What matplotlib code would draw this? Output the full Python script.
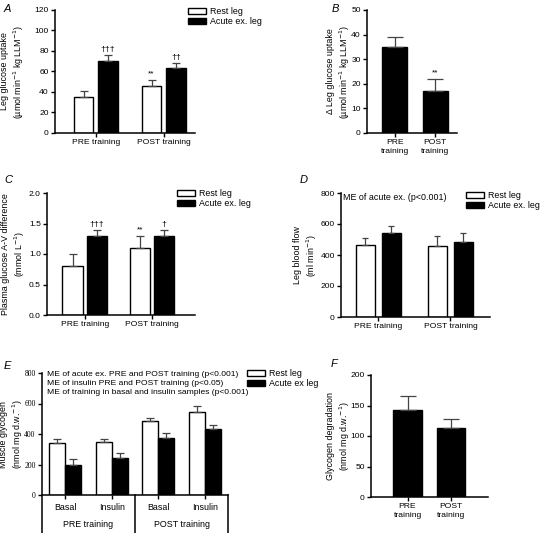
import numpy as np
import matplotlib.pyplot as plt
import matplotlib.transforms as mtransforms

plt.rcParams['font.family'] = ['Liberation Sans', 'DejaVu Sans']
plt.rcParams['font.size'] = 6

W, H = 540, 533
FS = 6.1      # tick / legend / note text
LFS = 6.4     # axis labels

# ---- data ----
groups = ['PRE training', 'POST training']
groups_2line = ['PRE\ntraining', 'POST\ntraining']
legend_labels = ['Rest leg', 'Acute ex. leg']

uptake_rest = [35, 46]
uptake_rest_err = [6, 6]
uptake_rest_sig = ['', '**']
uptake_ex = [70, 63]
uptake_ex_err = [6, 5]
uptake_ex_sig = ['\u2020\u2020\u2020', '\u2020\u2020']

delta_uptake = [35, 17]
delta_uptake_err = [4, 5]
delta_uptake_sig = ['', '**']

av_rest = [0.8, 1.1]
av_rest_err = [0.2, 0.2]
av_rest_sig = ['', '**']
av_ex = [1.3, 1.3]
av_ex_err = [0.1, 0.1]
av_ex_sig = ['\u2020\u2020\u2020', '\u2020']

flow_rest = [465, 460]
flow_rest_err = [45, 60]
flow_ex = [540, 485]
flow_ex_err = [50, 55]

glyc_cond = ['Basal', 'Insulin', 'Basal', 'Insulin']
glyc_period = ['PRE training', 'POST training']
glyc_rest = [340, 350, 485, 545]
glyc_rest_err = [25, 20, 20, 40]
glyc_ex = [200, 240, 375, 430]
glyc_ex_err = [35, 35, 30, 30]
glyc_notes = ['ME of acute ex. PRE and POST training (p<0.001)',
              'ME of insulin PRE and POST training (p<0.05)',
              'ME of training in basal and insulin samples (p<0.001)']

degradation = [143, 113]
degradation_err = [23, 15]

fig = plt.figure(figsize=(W / 100, H / 100), dpi=100)


def px_axes(left, top, right, bottom):
    return fig.add_axes([left / W, 1 - bottom / H, (right - left) / W, (bottom - top) / H])


def style(ax):
    for s in ['top', 'right']:
        ax.spines[s].set_visible(False)
    for s in ['left', 'bottom']:
        ax.spines[s].set_linewidth(1.1)
    ax.tick_params(length=3, width=1, pad=1.5, labelsize=FS)


def bars(ax, x, vals, errs, color, width, sig=None):
    ax.bar(x, vals, width, color=color, edgecolor='black', linewidth=1, zorder=2)
    ax.errorbar(x, vals, yerr=[np.zeros(len(errs)), errs], fmt='none', ecolor='#444444',
                elinewidth=0.9, capsize=width * 9, capthick=0.9, zorder=3)
    if sig:
        for xi, v, e, s in zip(x, vals, errs, sig):
            if s:
                ax.annotate(s, (xi, v + e), xytext=(0, 1.5), textcoords='offset points',
                            ha='center', va='bottom', fontsize=FS)


def legend(ax, px, py, labels):
    h = [plt.Rectangle((0, 0), 1, 1, facecolor=c, edgecolor='black', linewidth=1)
         for c in ['white', 'black']]
    ax.legend(h, labels, loc='upper left', bbox_to_anchor=(px / W, 1 - py / H),
              bbox_transform=fig.transFigure, frameon=False, handlelength=2.0,
              handleheight=0.6, handletextpad=0.5, labelspacing=0.15,
              borderaxespad=0, borderpad=0, fontsize=FS + 0.3)


def letter(px, py, s):
    fig.text(px / W, 1 - py / H, s, fontsize=8, style='italic', va='center', ha='left')


def ylab(ax, text, cx_px):
    # rotated two-line label centred at figure pixel column cx_px, axes middle
    pos = ax.get_position()
    fig.text(cx_px / W, (pos.y0 + pos.y1) / 2, text, rotation=90, ha='center',
             va='center', fontsize=LFS, linespacing=1.25)


def two_line_ticks(ax, labels):
    ax.set_xticklabels(labels)
    for t in ax.get_xticklabels():
        t.set_linespacing(1.4)


x2 = np.arange(2)

# ---- A ----
ax = px_axes(55, 10, 195, 133)
style(ax)
bars(ax, x2 - 0.18, uptake_rest, uptake_rest_err, 'white', 0.29, uptake_rest_sig)
bars(ax, x2 + 0.18, uptake_ex, uptake_ex_err, 'black', 0.29, uptake_ex_sig)
ax.set_xlim(-0.6, 1.46)
ax.set_ylim(0, 120)
ax.set_yticks(np.arange(0, 121, 20))
ax.set_xticks(x2)
ax.set_xticklabels(groups)
ylab(ax, 'Leg glucose uptake\n(\u00b5mol min$^{-1}$ kg LLM$^{-1}$)', 13)
legend(ax, 188, 7, legend_labels)
letter(4, 9, 'A')

# ---- B ----
ax = px_axes(367, 10, 457, 133)
style(ax)
bars(ax, x2, delta_uptake, delta_uptake_err, 'black', 0.62, delta_uptake_sig)
ax.set_xlim(-0.68, 1.54)
ax.set_ylim(0, 50)
ax.set_yticks(np.arange(0, 51, 10))
ax.set_xticks(x2)
two_line_ticks(ax, groups_2line)
ylab(ax, '\u0394 Leg glucose uptake\n(\u00b5mol min$^{-1}$ kg LLM$^{-1}$)', 339)
letter(332, 9, 'B')

# ---- C ----
ax = px_axes(47, 193, 195, 315)
style(ax)
bars(ax, x2 - 0.18, av_rest, av_rest_err, 'white', 0.3, av_rest_sig)
bars(ax, x2 + 0.18, av_ex, av_ex_err, 'black', 0.3, av_ex_sig)
ax.set_xlim(-0.56, 1.64)
ax.set_ylim(0, 2.0)
ax.set_yticks(np.arange(0, 2.01, 0.5))
ax.yaxis.set_major_formatter(plt.FormatStrFormatter('%.1f'))
ax.set_xticks(x2)
ax.set_xticklabels(groups)
ylab(ax, 'Plasma glucose A-V difference\n(mmol L$^{-1}$)', 14)
legend(ax, 177, 189, legend_labels)
letter(4, 180, 'C')

# ---- D ----
ax = px_axes(341, 193, 490, 317)
style(ax)
bars(ax, x2 - 0.18, flow_rest, flow_rest_err, 'white', 0.27)
bars(ax, x2 + 0.18, flow_ex, flow_ex_err, 'black', 0.27)
ax.set_xlim(-0.52, 1.55)
ax.set_ylim(0, 800)
ax.set_yticks(np.arange(0, 801, 200))
ax.set_xticks(x2)
ax.set_xticklabels(groups)
ylab(ax, 'Leg blood flow\n(ml min$^{-1}$)', 306)
legend(ax, 466, 191, legend_labels)
fig.text(343 / W, 1 - 198 / H, 'ME of acute ex. (p<0.001)', fontsize=FS + 0.3, va='center')
letter(300, 180, 'D')

# ---- E ----
x4 = np.arange(4)
ax = px_axes(42, 373, 228, 495)
style(ax)
bars(ax, x4 - 0.17, glyc_rest, glyc_rest_err, 'white', 0.34)
bars(ax, x4 + 0.17, glyc_ex, glyc_ex_err, 'black', 0.34)
ax.set_xlim(-0.5, 3.5)
ax.set_ylim(0, 800)
ax.set_yticks(np.arange(0, 801, 200))
for t in ax.get_yticklabels():
    t.set_fontfamily('Liberation Serif')
    t.set_fontsize(5.5)
ax.set_xticks(x4)
ax.set_xticklabels(glyc_cond, fontsize=FS + 0.3)
ax.tick_params(axis='x', pad=2.5)
ylab(ax, 'Muscle glycogen\n(nmol mg d.w.$^{-1}$)', 12)
trans = mtransforms.blended_transform_factory(ax.transData, ax.transAxes)
for xv in [-0.5, 1.5, 3.5]:
    ax.plot([xv, xv], [0, -0.32], transform=trans, clip_on=False, color='black', lw=1.1)
for xv, lab in zip([0.5, 2.5], glyc_period):
    ax.text(xv, -0.245, lab, transform=trans, ha='center', va='center', fontsize=FS + 0.3)
for i, note in enumerate(glyc_notes):
    fig.text(47 / W, 1 - (374 + 9.5 * i) / H, note, fontsize=FS, va='center')
h = [plt.Rectangle((0, 0), 1, 1, facecolor=c, edgecolor='black', linewidth=1)
     for c in ['white', 'black']]
ax.legend(h, ['Rest leg', 'Acute ex leg'], loc='upper left', bbox_to_anchor=(247 / W, 1 - 369 / H),
          bbox_transform=fig.transFigure, frameon=False, handlelength=2.0,
          handleheight=0.6, handletextpad=0.5, labelspacing=0.15,
          borderaxespad=0, borderpad=0, fontsize=FS + 0.3)
letter(4, 366, 'E')

# ---- F ----
ax = px_axes(371, 375, 488, 497)
style(ax)
bars(ax, x2, degradation, degradation_err, 'black', 0.66)
ax.set_xlim(-0.84, 1.85)
ax.set_ylim(0, 200)
ax.set_yticks(np.arange(0, 201, 50))
ax.set_xticks(x2)
two_line_ticks(ax, groups_2line)
ylab(ax, 'Glycogen degradation\n(nmol mg d.w.$^{-1}$)', 339)
letter(331, 364, 'F')

fig.savefig('out.png', dpi=100)
